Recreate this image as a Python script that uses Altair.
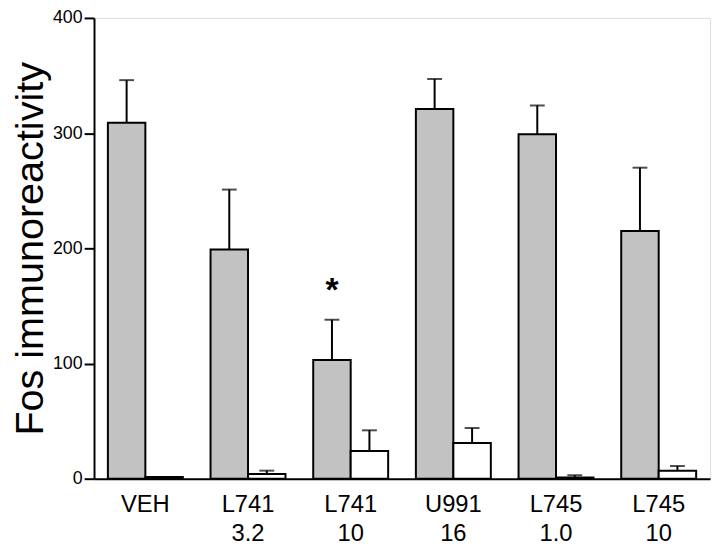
import altair as alt
import pandas as pd

groups = ["VEH", "L741|3.2", "L741|10", "U991|16", "L745|1.0", "L745|10"]
grey_vals = [309, 199, 103, 321, 299, 215]
grey_errs = [346, 251, 138, 347, 324, 270]
white_vals = [1.5, 4, 24, 31, 1, 7]
white_errs = [None, 7, 42, 44, 3, 11]
series = ["grey", "white"]
star_group = "L741|10"
star_value = 168

rows = []
for g, v, e in zip(groups, grey_vals, grey_errs):
    rows.append({"group": g, "series": "grey", "value": v, "err": e})
for g, v, e in zip(groups, white_vals, white_errs):
    rows.append({"group": g, "series": "white", "value": v, "err": e})
df = pd.DataFrame(rows)
err_df = df.dropna(subset=["err"])
star_df = pd.DataFrame({"group": [star_group], "series": ["grey"], "value": [star_value], "label": ["*"]})

xscale = alt.Scale(domain=groups, paddingInner=0.27, paddingOuter=0.135)
yscale = alt.Scale(domain=[0, 400], nice=False)
oscale = alt.Scale(domain=series, paddingInner=0, paddingOuter=0)
color_scale = alt.Scale(domain=series, range=["#c2c2c2", "#ffffff"])

x_enc = alt.X("group:N", scale=xscale, sort=groups, title=None,
              axis=alt.Axis(labelExpr="split(datum.label, '|')", labelAngle=0,
                            labelFontSize=24, labelLineHeight=30, labelPadding=14,
                            labelFont="Liberation Sans", labelColor="black",
                            ticks=False, domainColor="black", domainWidth=2,
                            labelBaseline="top"))
y_enc = alt.Y("value:Q", scale=yscale, title="Fos immunoreactivity",
              axis=alt.Axis(values=[0, 100, 200, 300, 400], tickSize=10, tickWidth=2,
                            tickColor="black", domainColor="black", domainWidth=2,
                            labelFontSize=18, labelFont="Liberation Sans", labelColor="black",
                            labelPadding=2, titleFontSize=40, titleFont="Liberation Sans",
                            titleFontWeight="normal", titleColor="black", titlePadding=2,
                            grid=False))
xo = alt.XOffset("series:N", scale=oscale, sort=series)

bars = alt.Chart(df).mark_bar(stroke="black", strokeWidth=2).encode(
    x=x_enc, xOffset=xo, y=y_enc,
    fill=alt.Fill("series:N", scale=color_scale, legend=None),
)

rules = alt.Chart(err_df).mark_rule(color="black", strokeWidth=2).encode(
    x=alt.X("group:N", scale=xscale, sort=groups), xOffset=xo,
    y=alt.Y("value:Q", scale=yscale), y2="err:Q",
)

caps = alt.Chart(err_df).mark_tick(color="black", thickness=2, size=15).encode(
    x=alt.X("group:N", scale=xscale, sort=groups), xOffset=xo,
    y=alt.Y("err:Q", scale=yscale),
)

star = alt.Chart(star_df).mark_text(fontSize=34, fontWeight="bold", font="Liberation Sans",
                                    color="black", baseline="middle", dy=6).encode(
    x=alt.X("group:N", scale=xscale, sort=groups), xOffset=xo,
    y=alt.Y("value:Q", scale=yscale), text="label:N",
)

chart = alt.layer(bars, rules, caps, star).properties(
    width=623, height=466,
    autosize=alt.AutoSizeParams(type="none"),
    padding={"left": 87, "top": 7, "right": 2, "bottom": 64},
).configure_view(stroke=None).configure(background="white")

chart.save("out.html", embed_options={"renderer": "svg", "actions": False})
